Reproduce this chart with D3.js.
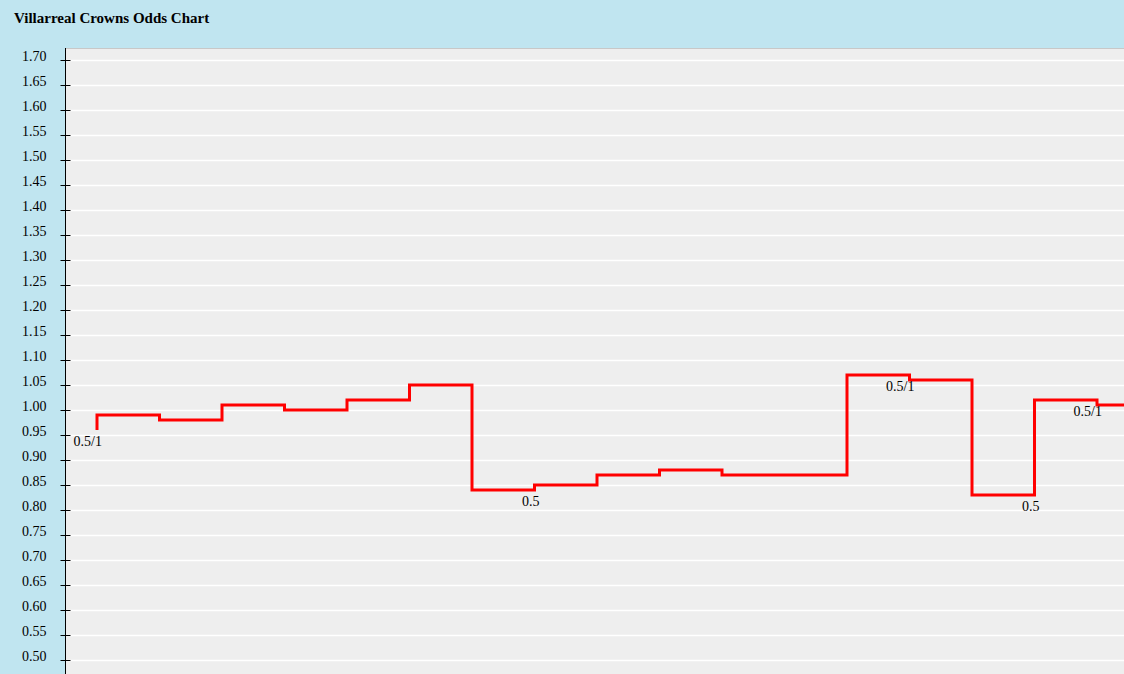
<!DOCTYPE html>
<html><head><meta charset="utf-8">
<script src="https://cdn.jsdelivr.net/npm/d3@7"></script>
<style>
html,body{margin:0;padding:0;background:#c0e5f0;}
svg{display:block;font-family:"Liberation Serif","Times New Roman",serif;}
</style></head>
<body>
<script>
const title = "Villarreal Crowns Odds Chart";
const steps = [0,1,2,3,4,5,6,7,8,9,10,11,12,13,14,15,16,17];
const odds = [0.96,0.99,0.98,1.01,1.00,1.02,1.05,0.84,0.85,0.87,0.88,0.87,0.87,1.07,1.06,0.83,1.02,1.01];
const handicaps = ["0.5/1","","","","","","","0.5","","","","","","0.5/1","","0.5","0.5/1",""];
const yTicks = [0.50,0.55,0.60,0.65,0.70,0.75,0.80,0.85,0.90,0.95,1.00,1.05,1.10,1.15,1.20,1.25,1.30,1.35,1.40,1.45,1.50,1.55,1.60,1.65,1.70];

const W = 1124, H = 674;
const plot = {left: 65, top: 48, right: 1124, bottom: 674};
const svg = d3.select("body").append("svg").attr("width", W).attr("height", H);

svg.append("rect").attr("width", W).attr("height", H).attr("fill", "#c0e5f0");
svg.append("text").attr("x", 14).attr("y", 23).attr("font-size", 15).attr("font-weight", "bold")
  .attr("fill", "#000").text(title);

svg.append("rect").attr("x", plot.left).attr("y", plot.top)
  .attr("width", plot.right - plot.left).attr("height", plot.bottom - plot.top).attr("fill", "#eeeeee");
svg.append("line").attr("x1", plot.left).attr("x2", plot.right).attr("y1", plot.top + 0.5).attr("y2", plot.top + 0.5)
  .attr("stroke", "#c8c8c8").attr("stroke-width", 1);

const y = d3.scaleLinear().domain([0.5, 1.7]).range([660, 60]);
const x = d3.scaleLinear().domain([0, 1]).range([97, 159.5]);

// gridlines
svg.append("g").selectAll("line").data(yTicks).join("line")
  .attr("x1", plot.left).attr("x2", plot.right)
  .attr("y1", d => Math.round(y(d)) + 0.5).attr("y2", d => Math.round(y(d)) + 0.5)
  .attr("stroke", "#ffffff").attr("stroke-width", 1.5);

// axis
const axis = d3.axisLeft(y).tickValues(yTicks).tickFormat(d3.format(".2f")).tickSize(5).tickPadding(14);
const ag = svg.append("g").attr("transform", `translate(${plot.left + 0.5},0)`).call(axis);
ag.select(".domain").attr("d", `M0,${plot.top}V${H}`).attr("stroke", "#000");
ag.selectAll(".tick line").attr("x1", -5).attr("x2", 5).attr("stroke", "#000");
ag.selectAll(".tick text").attr("font-size", 14).attr("fill", "#000")
  .attr("font-family", '"Liberation Serif","Times New Roman",serif').attr("dy", "0.05em");

// clip
svg.append("clipPath").attr("id", "clip").append("rect")
  .attr("x", plot.left).attr("y", plot.top).attr("width", plot.right - plot.left).attr("height", plot.bottom - plot.top);

const line = d3.line().x((d, i) => x(steps[i])).y(d => y(d)).curve(d3.curveStepBefore);
svg.append("path").attr("clip-path", "url(#clip)").datum(odds).attr("d", line)
  .attr("fill", "none").attr("stroke", "#ff0000").attr("stroke-width", 3);

svg.append("g").selectAll("text").data(handicaps.map((h, i) => ({h, i}))).join("text")
  .filter(d => d.h !== "")
  .attr("x", d => x(steps[d.i]) + 5).attr("y", d => y(odds[d.i]) + 16)
  .attr("text-anchor", "end").attr("font-size", 14).attr("fill", "#000")
  .text(d => d.h);
</script>
</body></html>
